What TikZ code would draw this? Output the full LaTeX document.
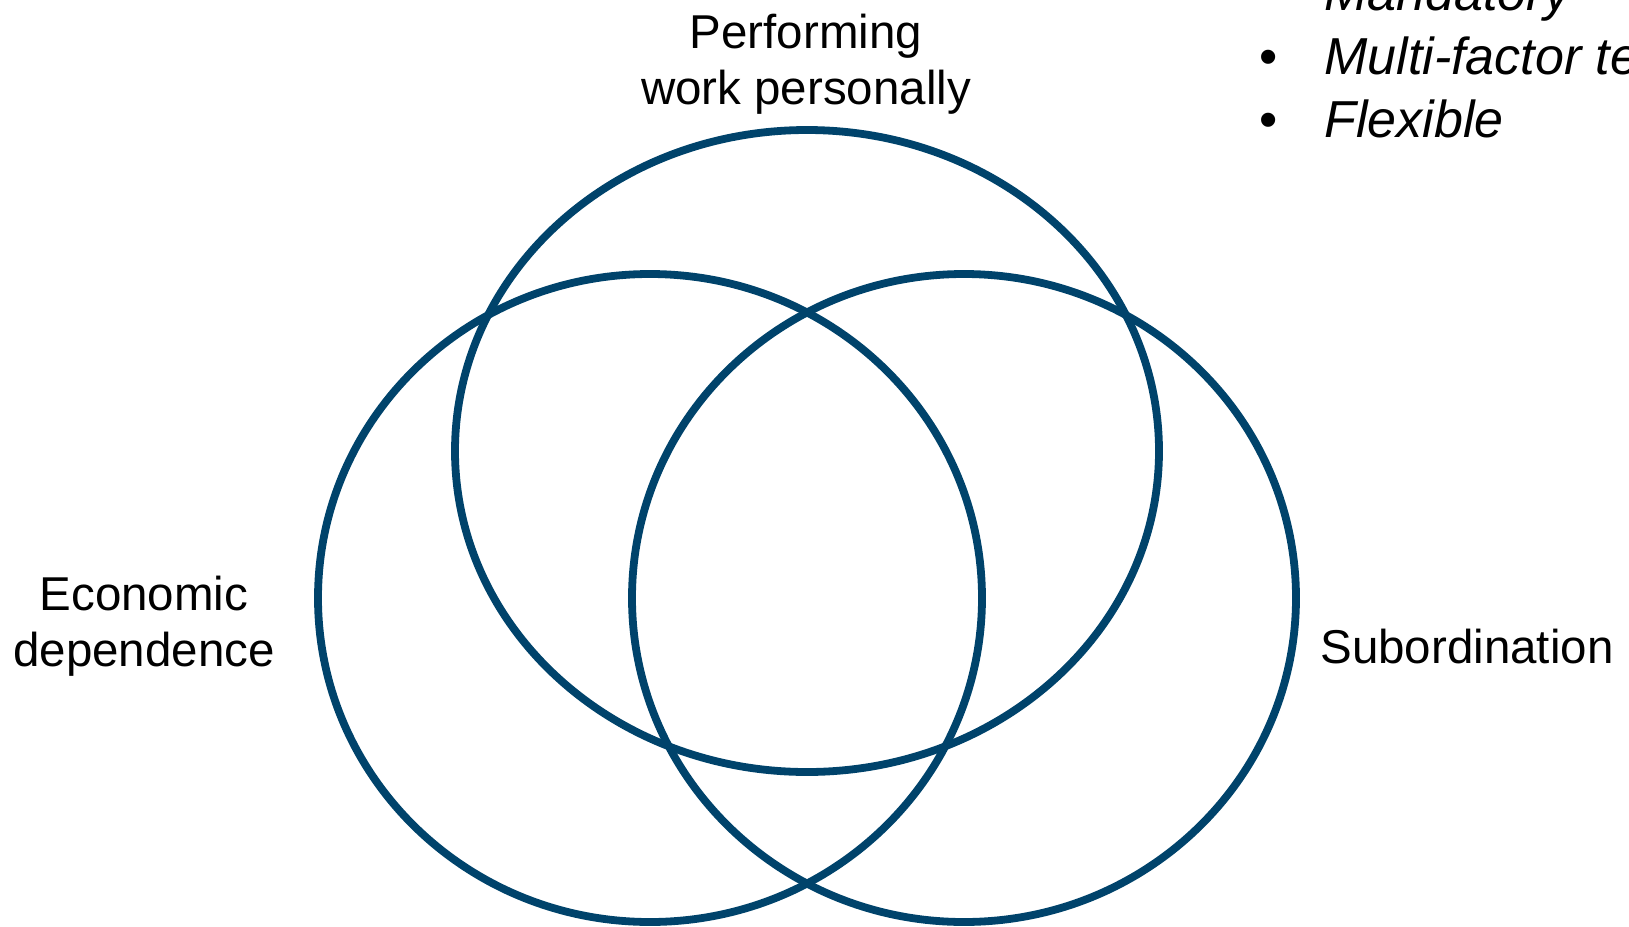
\documentclass[tikz,border=0pt]{standalone}
\usepackage{fontspec}
\setmainfont{Liberation Sans}
\definecolor{venn}{RGB}{0,67,107}
\tikzset{
  ring/.style={draw=venn, line width=3.9pt},
  lbl/.style={font=\fontsize{23.75}{28}\selectfont, inner sep=0pt, align=center},
  item/.style={font=\fontsize{26}{31.75}\selectfont\itshape, inner sep=0pt, anchor=base west},
  dot/.style={font=\fontsize{26}{31.75}\selectfont, inner sep=0pt, anchor=base}
}
\begin{document}
\begin{tikzpicture}[x=0.5pt,y=-0.5pt]
\useasboundingbox (0,0) rectangle (1629,927);
\clip (0,0) rectangle (1629,927);
% circles
\draw[ring] (807,451) ellipse [x radius=352, y radius=321];
\draw[ring] (650,598) ellipse [x radius=332, y radius=324];
\draw[ring] (964,598) ellipse [x radius=332, y radius=324];
% labels (base anchor = baseline of last line)
\node[lbl, anchor=base] (perf) at (806,104) {Performing\\work personally};
\node[lbl, anchor=base] (econ) at (144,666) {Economic\\dependence};
\node[lbl, anchor=base] (sub) at (1467,663) {Subordination};
% bullet list
\node[dot] (b1) at (1269,10) {•};
\node[item] (t1) at (1324,10) {Mandatory};
\node[dot] (b2) at (1269,74) {•};
\node[item] (t2) at (1324,74) {Multi-factor test};
\node[dot] (b3) at (1269,137) {•};
\node[item] (t3) at (1324,137) {Flexible};
\end{tikzpicture}
\end{document}
